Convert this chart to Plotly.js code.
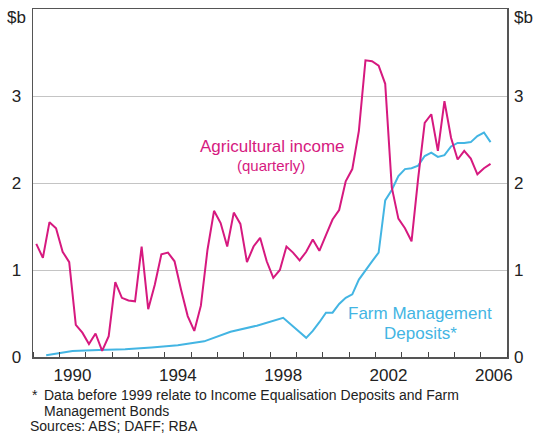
<!DOCTYPE html>
<html><head><meta charset="utf-8">
<script src="https://cdn.plot.ly/plotly-3.0.1.min.js"></script>
<style>html,body{margin:0;padding:0;background:#fff}#chart{width:534px;height:436px}</style>
</head><body><div id="chart"></div>
<script>
// Agricultural income, quarterly ($b)
const incomePeriods = [
 '1989-Q1','1989-Q2','1989-Q3','1989-Q4','1990-Q1','1990-Q2','1990-Q3','1990-Q4',
 '1991-Q1','1991-Q2','1991-Q3','1991-Q4','1992-Q1','1992-Q2','1992-Q3','1992-Q4',
 '1993-Q1','1993-Q2','1993-Q3','1993-Q4','1994-Q1','1994-Q2','1994-Q3','1994-Q4',
 '1995-Q1','1995-Q2','1995-Q3','1995-Q4','1996-Q1','1996-Q2','1996-Q3','1996-Q4',
 '1997-Q1','1997-Q2','1997-Q3','1997-Q4','1998-Q1','1998-Q2','1998-Q3','1998-Q4',
 '1999-Q1','1999-Q2','1999-Q3','1999-Q4','2000-Q1','2000-Q2','2000-Q3','2000-Q4',
 '2001-Q1','2001-Q2','2001-Q3','2001-Q4','2002-Q1','2002-Q2','2002-Q3','2002-Q4',
 '2003-Q1','2003-Q2','2003-Q3','2003-Q4','2004-Q1','2004-Q2','2004-Q3','2004-Q4',
 '2005-Q1','2005-Q2','2005-Q3','2005-Q4','2006-Q1','2006-Q2'
];
const incomeValues = [
 1.30,1.14,1.55,1.48, 1.21,1.09,0.37,0.28,
 0.15,0.27,0.07,0.24, 0.86,0.68,0.65,0.64,
 1.27,0.55,0.83,1.18, 1.20,1.10,0.77,0.47,
 0.30,0.59,1.23,1.68, 1.54,1.27,1.66,1.53,
 1.09,1.27,1.37,1.10, 0.91,1.00,1.27,1.20,
 1.11,1.21,1.35,1.22, 1.40,1.58,1.69,2.02,
 2.16,2.60,3.41,3.40, 3.35,3.14,1.95,1.59,
 1.48,1.33,2.05,2.69, 2.79,2.37,2.94,2.52,
 2.27,2.37,2.28,2.10, 2.17,2.22
];
// Farm Management Deposits ($b): annual to 1998, then quarterly
const fmdPeriods = [
 '1989','1990','1991','1992','1993','1994','1995','1996','1997','1998',
 '1999-Q2','1999-Q3','1999-Q4','2000-Q1','2000-Q2','2000-Q3','2000-Q4',
 '2001-Q1','2001-Q2','2001-Q3','2001-Q4','2002-Q1','2002-Q2','2002-Q3','2002-Q4',
 '2003-Q1','2003-Q2','2003-Q3','2003-Q4','2004-Q1','2004-Q2','2004-Q3','2004-Q4',
 '2005-Q1','2005-Q2','2005-Q3','2005-Q4','2006-Q1','2006-Q2'
];
const fmdValues = [
 0.02,0.07,0.08,0.09,0.11,0.135,0.18,0.29,0.36,0.45,
 0.22,0.30,0.40,0.51,0.51,0.61,0.68,
 0.72,0.89,1.00,1.10,1.20,1.80,1.92,2.08,
 2.16,2.17,2.20,2.31,2.35,2.30,2.32,2.42,
 2.46,2.46,2.47,2.54,2.58,2.47
];
const xTickLabels = ['1990','1994','1998','2002','2006'];
const yTickValues = [0,1,2,3];
const yTickLabels = ['0','1','2','3'];

// period label -> position on a continuous year axis (mid-period)
function toYear(p){
  const parts = p.split('-Q');
  const y = +parts[0];
  return parts.length === 2 ? y + (+parts[1] - 0.5) / 4 : y + 0.5;
}

const MAG = '#d6197f', BLUE = '#43b5e3', FONT = 'Liberation Sans, Arial, sans-serif';
const TXT = '#222';

const traces = [
  {x: fmdPeriods.map(toYear), y: fmdValues, type:'scatter', mode:'lines',
   line:{color:BLUE, width:2}, hoverinfo:'skip', showlegend:false},
  {x: incomePeriods.map(toYear), y: incomeValues, type:'scatter', mode:'lines',
   line:{color:MAG, width:2}, hoverinfo:'skip', showlegend:false},
  {x: [], y: [], yaxis:'y2', type:'scatter', mode:'lines', showlegend:false, hoverinfo:'skip'}
];

const layout = {
  width:534, height:436,
  margin:{l:33, r:27, t:9, b:79, pad:0},
  paper_bgcolor:'#fff', plot_bgcolor:'#fff',
  font:{family:FONT, size:17, color:TXT},
  showlegend:false,
  xaxis:{
    range:[1989, 2007], fixedrange:true,
    tickmode:'array', tickvals: xTickLabels.map(t => +t + 0.5), ticktext: xTickLabels,
    ticks:'', ticklabelstandoff:2,
    showgrid:false, zeroline:false,
    showline:true, mirror:true, linecolor:'#555', linewidth:1.5,
    minor:{tickmode:'linear', tick0:1989, dtick:1, ticks:'inside', ticklen:5, tickwidth:1, tickcolor:'#444', showgrid:false},
    tickfont:{size:17, color:TXT}
  },
  yaxis:{
    range:[0,4], fixedrange:true,
    tickmode:'array', tickvals:yTickValues, ticktext:yTickLabels,
    ticks:'', ticklabelstandoff:7,
    showgrid:true, gridcolor:'#c4c4c4', gridwidth:1,
    zeroline:false, showline:true, mirror:true, linecolor:'#555', linewidth:1.5,
    tickfont:{size:17, color:TXT}
  },
  yaxis2:{
    overlaying:'y', side:'right', range:[0,4], fixedrange:true,
    tickmode:'array', tickvals:yTickValues, ticktext:yTickLabels,
    ticks:'', ticklabelstandoff:6,
    showgrid:false, zeroline:false, showline:false,
    tickfont:{size:17, color:TXT}
  },
  annotations:[
    {xref:'paper', yref:'y', x:0, y:3.9, xanchor:'right', yanchor:'middle', xshift:-5,
     text:'$b', showarrow:false, font:{size:17, color:TXT}},
    {xref:'paper', yref:'y', x:1, y:3.9, xanchor:'left', yanchor:'middle', xshift:5,
     text:'$b', showarrow:false, font:{size:17, color:TXT}},
    {xref:'x', yref:'y', x:1998.09, y:2.42, xanchor:'center', yanchor:'middle',
     text:'Agricultural income', showarrow:false, font:{size:17, color:MAG}},
    {xref:'x', yref:'y', x:1998.05, y:2.20, xanchor:'center', yanchor:'middle',
     text:'(quarterly)', showarrow:false, font:{size:15, color:MAG}},
    {xref:'x', yref:'y', x:2003.68, y:0.505, xanchor:'center', yanchor:'middle',
     text:'Farm Management', showarrow:false, font:{size:17, color:BLUE}},
    {xref:'x', yref:'y', x:2003.71, y:0.275, xanchor:'center', yanchor:'middle',
     text:'Deposits*', showarrow:false, font:{size:17, color:BLUE}},
    {xref:'paper', yref:'paper', x:0, y:-0.109, xanchor:'left', yanchor:'middle', xshift:-3,
     text:'*', showarrow:false, font:{size:14, color:TXT}},
    {xref:'paper', yref:'paper', x:0, y:-0.109, xanchor:'left', yanchor:'middle', xshift:9,
     text:'Data before 1999 relate to Income Equalisation Deposits and Farm', showarrow:false, font:{size:14, color:TXT}},
    {xref:'paper', yref:'paper', x:0, y:-0.155, xanchor:'left', yanchor:'middle', xshift:9,
     text:'Management Bonds', showarrow:false, font:{size:14, color:TXT}},
    {xref:'paper', yref:'paper', x:0, y:-0.198, xanchor:'left', yanchor:'middle', xshift:-5,
     text:'Sources: ABS; DAFF; RBA', showarrow:false, font:{size:14, color:TXT}}
  ]
};

Plotly.newPlot('chart', traces, layout, {staticPlot:true, displayModeBar:false});
</script>
</body></html>
